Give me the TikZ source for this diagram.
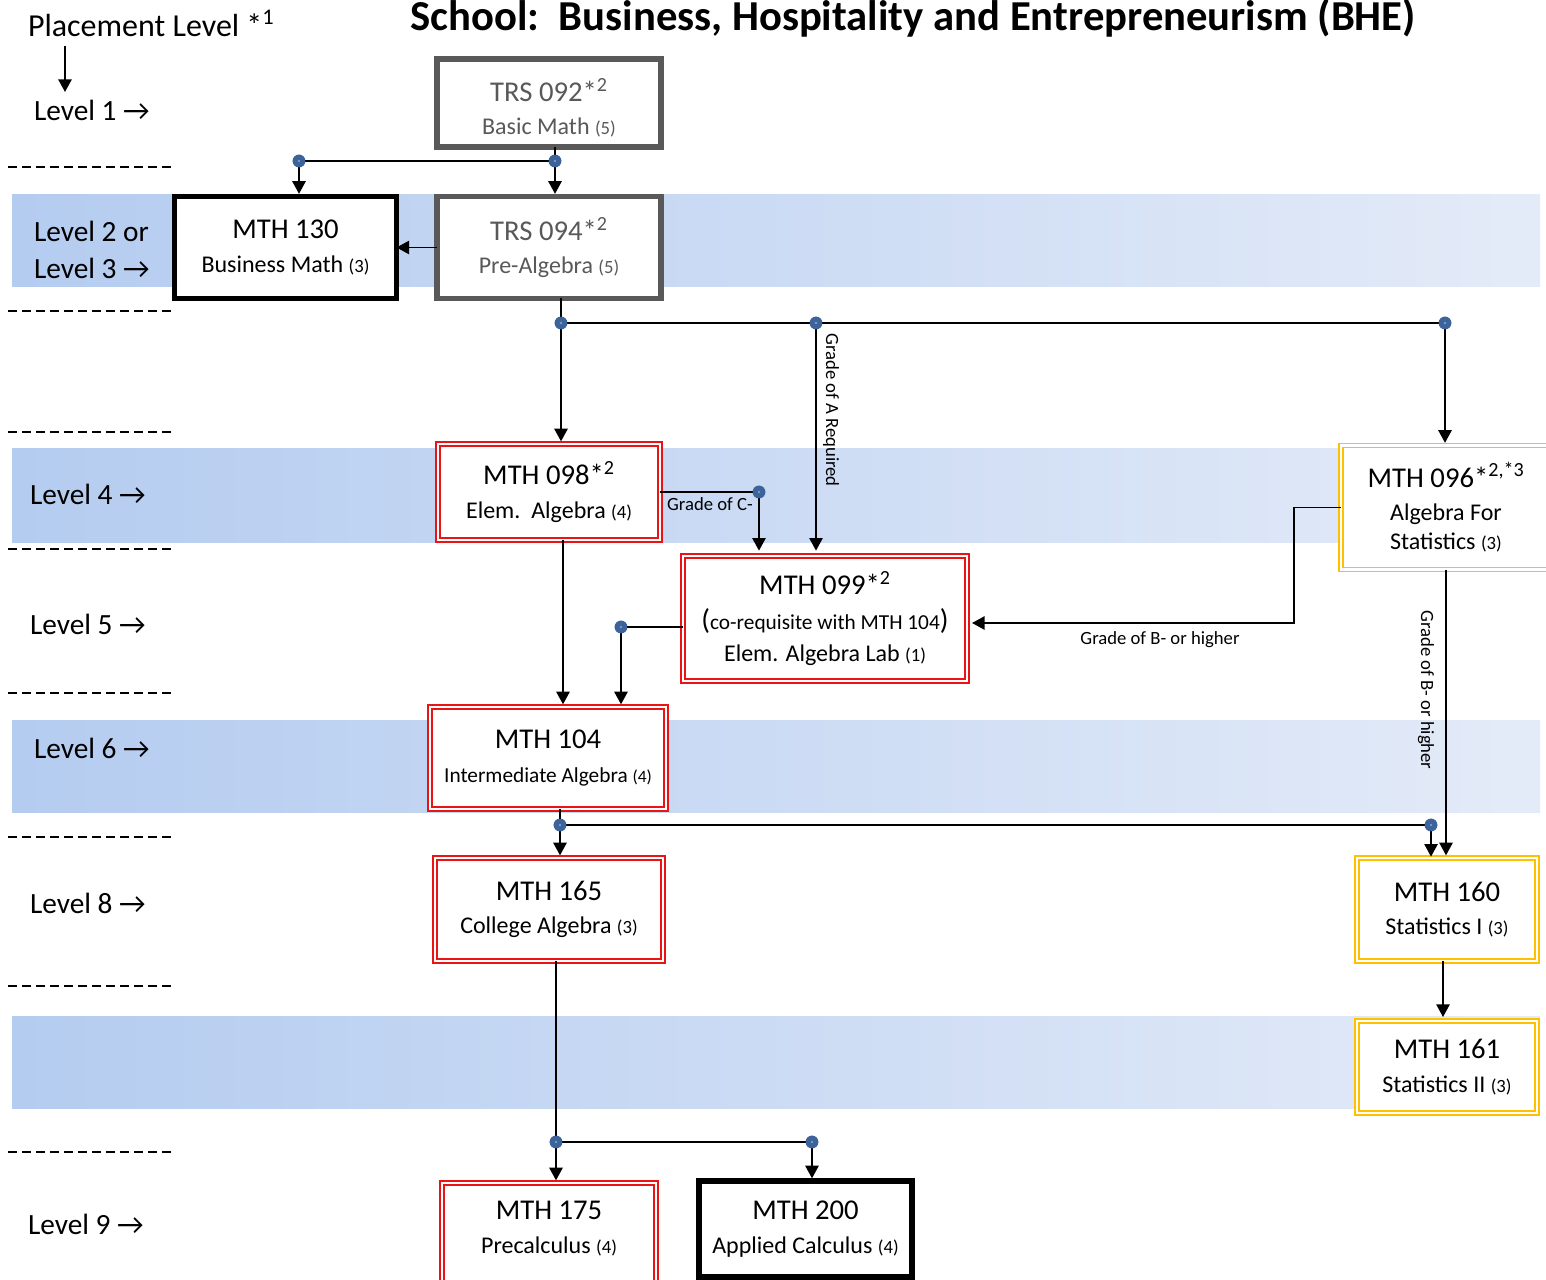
\documentclass[tikz,border=0pt]{standalone}
\usepackage{fontspec}
\setmainfont{Carlito}
\usetikzlibrary{arrows.meta,calc}
\definecolor{bandL}{RGB}{180,204,240}
\definecolor{bandR}{RGB}{228,235,248}
\definecolor{dotblue}{RGB}{60,100,155}
\definecolor{grayb}{RGB}{89,89,89}
\definecolor{redb}{RGB}{235,20,20}
\definecolor{yelb}{RGB}{255,192,0}
\newcommand\fT{\fontsize{32pt}{36pt}\bfseries\selectfont}
\newcommand\fP{\fontsize{24pt}{28pt}\selectfont}
\newcommand\fL{\fontsize{22pt}{25pt}\selectfont}
\newcommand\fA{\fontsize{21.5pt}{26pt}\selectfont}
\newcommand\fB{\fontsize{18pt}{21pt}\selectfont}
\newcommand\fC{\fontsize{14pt}{16pt}\selectfont}
\newcommand\fS{\fontsize{14pt}{16pt}\selectfont}
\newcommand\sq[1]{\textsuperscript{#1}}
\tikzset{
  every node/.style={inner sep=0pt, outer sep=0pt},
  boxbase/.style={fill=white, align=center, font=\fontsize{18pt}{25pt}\selectfont},
  graybox/.style={boxbase, draw=grayb, line width=4pt, text=grayb},
  blackbox/.style={boxbase, draw=black, line width=4pt},
  redbox/.style={boxbase, draw=redb, double=white, double distance=1.6pt, line width=1.2pt},
  yelbox/.style={boxbase, draw=yelb, double=white, double distance=1.6pt, line width=1.2pt},
  dotnode/.style={circle, fill=dotblue, minimum size=9.5pt},
  conn/.style={line width=1.3pt},
  arr/.style={conn, -{Triangle[length=9.5pt,width=10pt]}},
  lvl/.style={font=\fL, anchor=west},
  dashln/.style={line width=1.3pt, dash pattern=on 6.5pt off 4pt},
}
\begin{document}
\begin{tikzpicture}[x=0.75pt, y=-0.75pt]
\useasboundingbox (0,0) rectangle (1546,1280);
% bands
\foreach \ya/\yb in {195/287, 448/542, 720/812, 1016/1108}{
  \fill[left color=bandL, right color=bandR] (12,\ya) rectangle (1540,\yb);
}
% dashed lines
\foreach \yy in {167, 311, 432, 549, 693, 837, 986, 1152}{
  \draw[dashln] (8,\yy) -- (172,\yy);
}
% title and level labels
\node[font=\fT, anchor=base] (title) at (913,31) {School:\ \ Business, Hospitality and Entrepreneurism (BHE)};
\node[font=\fP, anchor=base west] (pl) at (28,37) {Placement Level *\sq{1}};
\coordinate (pa) at (65,46);
\coordinate (pb) at (65,92);
\draw[arr] (pa) -- (pb);
\node[lvl] (l1) at (34,110) {Level 1 →};
\node[lvl, align=left] (l23) at (34,250) {Level 2 or\\[3pt]Level 3 →};
\node[lvl] (l4) at (30,494) {Level 4 →};
\node[lvl] (l5) at (30,624) {Level 5 →};
\node[lvl] (l6) at (34,748) {Level 6 →};
\node[lvl] (l8) at (30,903) {Level 8 →};
\node[lvl] (l9) at (28,1224) {Level 9 →};
% boxes
\node[graybox, minimum width=224*0.75pt, minimum height=88*0.75pt] (t092box) at (549,103) {};
\node[text=grayb, align=center, font=\fontsize{18pt}{25pt}\selectfont] (t092) at (549,107.5)
  {{\fA TRS 092*\sq{2}}\\{\fB Basic Math {\fC(5)}}};
\node[graybox, minimum width=224*0.75pt, minimum height=102*0.75pt] (t094) at (549,247.5)
  {{\fA TRS 094*\sq{2}}\\{\fB Pre-Algebra {\fC(5)}}};
\node[blackbox, minimum width=222*0.75pt, minimum height=102*0.75pt] (m130) at (285.5,247.5)
  {{\fA MTH 130}\\{\fB Business Math {\fC(3)}}};
\node[redbox, minimum width=222*0.75pt, minimum height=96*0.75pt] (m098) at (549,492)
  {{\fA MTH 098*\sq{2}}\\{\fB Elem.\ \ Algebra {\fC(4)}}};
\node[redbox, minimum width=284*0.75pt, minimum height=125*0.75pt] (m099) at (825,618.5)
  {{\fA MTH 099*\sq{2}}\\[1pt]{\fA(}{\fontsize{16pt}{20pt}\selectfont co-requisite with MTH 104}{\fA)}\\[-1pt]{\fB Elem. Algebra Lab {\fC(1)}}};
\node[yelbox, minimum width=210*0.75pt, minimum height=124*0.75pt] (m096) at (1446,507.5)
  {{\fA MTH 096*\sq{2,*3}}\\{\fB Algebra For}\\[-3pt]{\fB Statistics {\fC(3)}}};
\node[redbox, minimum width=236*0.75pt, minimum height=102*0.75pt] (m104) at (548,758)
  {{\fA MTH 104}\\{\fontsize{16pt}{20pt}\selectfont Intermediate Algebra {\fontsize{13pt}{15pt}\selectfont(4)}}};
\node[redbox, minimum width=228*0.75pt, minimum height=103*0.75pt] (m165) at (549,909.5)
  {{\fA MTH 165}\\{\fB College Algebra {\fC(3)}}};
\node[yelbox, minimum width=180*0.75pt, minimum height=103*0.75pt] (m160) at (1447,909.5)
  {{\fA MTH 160}\\{\fB Statistics I {\fC(3)}}};
\node[yelbox, minimum width=180*0.75pt, minimum height=92*0.75pt] (m161) at (1447,1067)
  {{\fA MTH 161}\\{\fB Statistics II {\fC(3)}}};
\node[redbox, minimum width=214*0.75pt, minimum height=124*0.75pt] (m175) at (549,1245)
  {{\fA MTH 175}\\{\fB Precalculus {\fC(4)}}\\[-6pt]\strut};
\node[blackbox, minimum width=213*0.75pt, minimum height=96*0.75pt] (m200) at (805.5,1229)
  {{\fA MTH 200}\\{\fB Applied Calculus {\fC(4)}}};
% dots
\node[dotnode] (d1) at (555,161) {};
\node[dotnode] (d2) at (299,161) {};
\node[dotnode] (d3) at (561,323) {};
\node[dotnode] (d4) at (816,323) {};
\node[dotnode] (d5) at (1445,323) {};
\node[dotnode] (d6) at (759,492) {};
\node[dotnode] (d7) at (621,627) {};
\node[dotnode] (d8) at (560,825) {};
\node[dotnode] (d9) at (1431,825) {};
\node[dotnode] (d10) at (556,1142) {};
\node[dotnode] (d11) at (812,1142) {};
\coordinate (c1443) at (1443,0);
\coordinate (c623) at (0,623);
% connectors
\draw[conn] (t092box.south -| d1) -- (d1);
\draw[arr] (d1) -- ([yshift=2pt]t094.north -| d1);
\draw[conn] (d1) -- (d2);
\draw[arr] (d2) -- ([yshift=2pt]m130.north -| d2);
\draw[arr] (t094.west) -- (m130.east);
\draw[conn] (t094.south -| d3) -- (d3) -- (d4) -- (d5);
\draw[arr] (d3) -- ([yshift=2pt]m098.north -| d3);
\draw[arr] (d4) -- ([yshift=4pt]m099.north -| d4);
\node[font=\fS, rotate=-90] (la) at (831,410) {Grade of A Required};
\draw[arr] (d5) -- ([yshift=2pt]m096.north -| d5);
\draw[conn] (m098.east |- d6) -- (d6);
\draw[arr] (d6) -- ([yshift=4pt]m099.north -| d6);
\node[font=\fS, anchor=north] (lc) at (710,498) {Grade of C-};
\draw[arr] ($(m098.south)+(14,0)$) coordinate (s98) -- ([yshift=2pt]s98 |- m104.north);
\draw[conn] (m099.west |- d7) -- (d7);
\draw[arr] (d7) -- ([yshift=2pt]d7 |- m104.north);
\draw[arr] (m096.west) -- ++(-47,0) coordinate (k1) -- (k1 |- c623) -- ($(m099.east |- c623)+(5,0)$);
\node[font=\fS, anchor=north] (lb) at (1160,632) {Grade of B- or higher};
\draw[arr] (m096.south) -- ([yshift=2pt]m096.south |- m160.north);
\node[font=\fS, rotate=-90] (lb2) at (1426,690) {Grade of B- or higher};
\draw[conn] (m104.south -| d8) -- (d8);
\draw[arr] (d8) -- ([yshift=2pt]d8 |- m165.north);
\draw[conn] (d8) -- (d9);
\draw[arr] (d9) -- ([yshift=1pt]d9 |- m160.north);
\draw[arr] (m160.south -| c1443) -- ([yshift=3pt]m161.north -| c1443);
\draw[conn] (m165.south -| d10) -- (d10);
\draw[arr] (d10) -- ([yshift=2pt]d10 |- m175.north);
\draw[conn] (d10) -- (d11);
\draw[arr] (d11) -- ([yshift=2pt]d11 |- m200.north);
% dots on top
\foreach \d in {d1,d2,d3,d4,d5,d6,d7,d8,d9,d10,d11}{
  \fill[dotblue] (\d) circle (4.75pt);
  \fill[dotblue!55!white] (\d) circle (0.9pt);
}
\end{tikzpicture}
\end{document}
